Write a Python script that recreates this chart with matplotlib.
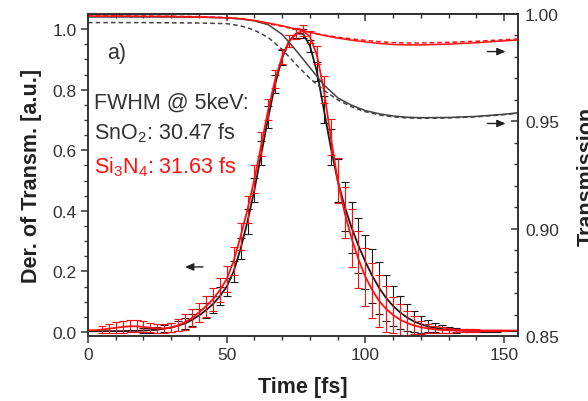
import numpy as np
import matplotlib
matplotlib.use('Agg')
import matplotlib.pyplot as plt

plt.rcParams['font.family'] = ['Liberation Sans', 'DejaVu Sans']
plt.rcParams['mathtext.default'] = 'regular'

# time grid of the derivative data [fs]
t = [0, 2.5, 5, 7.5, 10, 12.5, 15, 17.5, 20, 22.5, 25, 27.5, 30, 32.5, 35, 37.5,
     40, 42.5, 45, 47.5, 50, 52.5, 55, 57.5, 60, 62.5, 65, 67.5, 70, 72.5, 75, 77.5,
     80, 82.5, 85, 87.5, 90, 92.5, 95, 97.5, 100, 102.5, 105, 107.5, 110, 112.5,
     115, 117.5, 120, 122.5, 125, 127.5, 130, 132.5, 135, 137.5, 140, 142.5, 145,
     147.5, 150, 152.5, 155]

# SnO2 derivative of transmission + error
sno2_d = [0.003, 0.003, 0.003, 0.003, 0.003, 0.003, 0.004, 0.004, 0.005, 0.006, 0.008, 0.011,
          0.015, 0.021, 0.029, 0.040, 0.055, 0.072, 0.092, 0.118, 0.150, 0.200, 0.275, 0.365,
          0.470, 0.590, 0.710, 0.820, 0.905, 0.960, 0.985, 0.985, 0.945, 0.860, 0.735, 0.610,
          0.500, 0.415, 0.345, 0.285, 0.232, 0.185, 0.145, 0.112, 0.086, 0.065, 0.048, 0.035,
          0.026, 0.019, 0.014, 0.010, 0.008, 0.006, 0.005, 0.004, 0.004, 0.003, 0.003, 0.003,
          0.003, 0.003, 0.003]
sno2_err = [0, 0, 0, 0, 0, 0, 0, 0, 0.008, 0.008, 0.010, 0.012, 0.014, 0.016, 0.018, 0.020,
            0.022, 0.025, 0.028, 0.030, 0.030, 0.035, 0.035, 0.040, 0.040, 0.040, 0.035, 0.030,
            0.025, 0.020, 0.015, 0.015, 0.020, 0.030, 0.045, 0.060, 0.070, 0.080, 0.085, 0.090,
            0.090, 0.090, 0.085, 0.075, 0.065, 0.055, 0.045, 0.035, 0.028, 0.020, 0.015, 0.012,
            0.010, 0.008, 0.006, 0.005, 0.004, 0.003, 0.003, 0.003, 0, 0, 0]

# Si3N4 derivative of transmission + error
si3n4_d = [0.006, 0.006, 0.008, 0.011, 0.014, 0.017, 0.019, 0.019, 0.017, 0.014, 0.012, 0.012,
           0.015, 0.022, 0.033, 0.047, 0.065, 0.085, 0.108, 0.138, 0.175, 0.235, 0.315, 0.405,
           0.505, 0.620, 0.735, 0.835, 0.910, 0.960, 0.985, 0.995, 0.975, 0.915, 0.800, 0.645,
           0.500, 0.395, 0.310, 0.240, 0.182, 0.138, 0.102, 0.076, 0.056, 0.041, 0.030, 0.022,
           0.016, 0.012, 0.009, 0.007, 0.006, 0.005, 0.005, 0.005, 0.005, 0.005, 0.005, 0.005,
           0.005, 0.005, 0.005]
si3n4_err = [0, 0, 0.012, 0.015, 0.018, 0.020, 0.020, 0.020, 0.018, 0.015, 0.014, 0.014,
             0.016, 0.020, 0.025, 0.030, 0.032, 0.035, 0.038, 0.040, 0.042, 0.045, 0.045, 0.045,
             0.045, 0.040, 0.035, 0.030, 0.025, 0.020, 0.018, 0.018, 0.020, 0.030, 0.045, 0.060,
             0.075, 0.085, 0.095, 0.095, 0.095, 0.090, 0.085, 0.075, 0.060, 0.050, 0.040, 0.030,
             0.022, 0.016, 0.012, 0.010, 0.008, 0.006, 0.005, 0.004, 0.004, 0.003, 0.003, 0.003,
             0.003, 0, 0]

# transmission curves (right axis)
tr_t = [0, 10, 20, 30, 40, 50, 55, 60, 65, 70, 75, 80, 85, 90, 95, 100, 105, 110, 115, 120,
        130, 140, 150, 155]
sno2_tr = [0.9986, 0.9986, 0.9986, 0.9986, 0.9985, 0.9982, 0.9977, 0.9968, 0.9950, 0.9905,
           0.9830, 0.9750, 0.9670, 0.9610, 0.9575, 0.9550, 0.9535, 0.9525, 0.9519, 0.9517,
           0.9518, 0.9523, 0.9533, 0.9540]
sno2_tr2 = [0.9960, 0.9960, 0.9960, 0.9959, 0.9958, 0.9955, 0.9945, 0.9925, 0.9890, 0.9835,
            0.9765, 0.9700, 0.9645, 0.9600, 0.9568, 0.9545, 0.9530, 0.9521, 0.9516, 0.9514,
            0.9516, 0.9521, 0.9531, 0.9538]
si3n4_tr = [0.9990, 0.9990, 0.9989, 0.9988, 0.9986, 0.9982, 0.9978, 0.9970, 0.9958, 0.9945,
            0.9930, 0.9915, 0.9900, 0.9888, 0.9878, 0.9870, 0.9863, 0.9858, 0.9856, 0.9856,
            0.9860, 0.9866, 0.9875, 0.9879]
si3n4_tr2 = [0.9992, 0.9992, 0.9991, 0.9990, 0.9988, 0.9984, 0.9978, 0.9968, 0.9955, 0.9942,
             0.9928, 0.9914, 0.9902, 0.9892, 0.9884, 0.9877, 0.9871, 0.9867, 0.9865, 0.9865,
             0.9868, 0.9873, 0.9880, 0.9884]

BLACK = '#1a1a1a'
RED = '#ff1010'
TXT = '#333333'

fig = plt.figure(figsize=(5.88, 4.02), dpi=100)
ax = fig.add_axes([88 / 588, 1 - 337 / 402, 430 / 588, 322 / 402])
ax2 = ax.twinx()

tt = np.array(t)
for d, e, c, z in [(sno2_d, sno2_err, BLACK, 2), (si3n4_d, si3n4_err, RED, 3)]:
    d = np.array(d)
    e = np.array(e)
    ax.plot(tt, d, color=c, lw=1.3, zorder=z)
    m = e > 0
    ax.errorbar(tt[m], d[m], yerr=e[m], fmt='none', ecolor=c, elinewidth=0.8,
                capsize=2.8, capthick=0.8, zorder=z)

ax2.plot(tr_t, sno2_tr, color='#444444', lw=1.1)
ax2.plot(tr_t, sno2_tr2, color='#444444', lw=1.1, ls=(0, (3, 2)))
ax2.plot(tr_t, si3n4_tr, color=RED, lw=1.1)
ax2.plot(tr_t, si3n4_tr2, color=RED, lw=1.1, ls=(0, (3, 2)))

ax.set_xlim(0, 155)
ax.set_ylim(-0.013, 1.05)
ax2.set_ylim(0.85, 1.0)

ax.set_xticks([0, 50, 100, 150])
ax.set_xticks(np.arange(0, 156, 10), minor=True)
ax.set_yticks([0.0, 0.2, 0.4, 0.6, 0.8, 1.0])
ax.set_yticks(np.arange(0, 1.01, 0.05), minor=True)
ax2.set_yticks([0.85, 0.90, 0.95, 1.00])
ax2.set_yticks(np.arange(0.85, 1.001, 0.01), minor=True)
ax2.yaxis.set_major_formatter(matplotlib.ticker.FormatStrFormatter('%.2f'))
ax.yaxis.set_major_formatter(matplotlib.ticker.FormatStrFormatter('%.1f'))

ax.tick_params(axis='both', which='major', direction='out', length=5, width=1.1,
               labelsize=12.5, labelcolor=TXT, color=TXT, pad=3)
ax.tick_params(axis='both', which='minor', direction='out', length=3, width=1, color=TXT)
ax2.tick_params(axis='y', which='major', direction='in', length=5, width=1.1,
                labelsize=12.5, labelcolor=TXT, color=TXT, pad=5)
ax2.tick_params(axis='y', which='minor', direction='in', length=3, width=1, color=TXT)

# top axis: inward ticks, no labels
top = ax.secondary_xaxis('top')
top.set_xticks([0, 50, 100, 150])
top.set_xticks(np.arange(0, 156, 10), minor=True)
top.tick_params(axis='x', which='major', direction='in', length=5, width=1.1, color=TXT,
                labeltop=False)
top.tick_params(axis='x', which='minor', direction='in', length=3, width=1, color=TXT)
top.set_xticklabels([])

for a in (ax, ax2):
    for sp in a.spines.values():
        sp.set_linewidth(1.2)
        sp.set_color(TXT)
top.spines['top'].set_linewidth(1.2)
top.spines['top'].set_color(TXT)

ax.set_xlabel('Time [fs]', fontsize=15.5, fontweight='bold', color='#222222')
ax.set_ylabel('Der. of Transm. [a.u.]', fontsize=15.5, fontweight='bold', color='#222222')
ax2.set_ylabel('Transmission', fontsize=15.5, fontweight='bold', color='#222222')
ax.xaxis.set_label_coords(0.5, -0.125)
ax.yaxis.set_label_coords(-0.107, 0.5)
ax2.yaxis.set_label_coords(1.137, 0.5)

ax.text(6.8, 0.924, 'a)', fontsize=15.5, color=TXT, ha='left', va='center')
ax.text(2.3, 0.76, 'FWHM @ 5keV:', fontsize=15.5, color=TXT, ha='left', va='center')
ax.text(2.3, 0.66, 'SnO$_2$: 30.47 fs', fontsize=15.5, color=TXT, ha='left', va='center')
ax.text(2.3, 0.548, 'Si$_3$N$_4$: 31.63 fs', fontsize=15.5, color=RED, ha='left', va='center')

arrow = dict(arrowstyle='-|>,head_length=0.5,head_width=0.22', color='#222222', lw=1.0)
ax.annotate('', xy=(34, 0.215), xytext=(42.5, 0.215), arrowprops=arrow)
ax2.annotate('', xy=(151.5, 0.9825), xytext=(143, 0.9825), arrowprops=arrow)
ax2.annotate('', xy=(151.5, 0.949), xytext=(143, 0.949), arrowprops=arrow)

fig.savefig('out.png', dpi=100)
